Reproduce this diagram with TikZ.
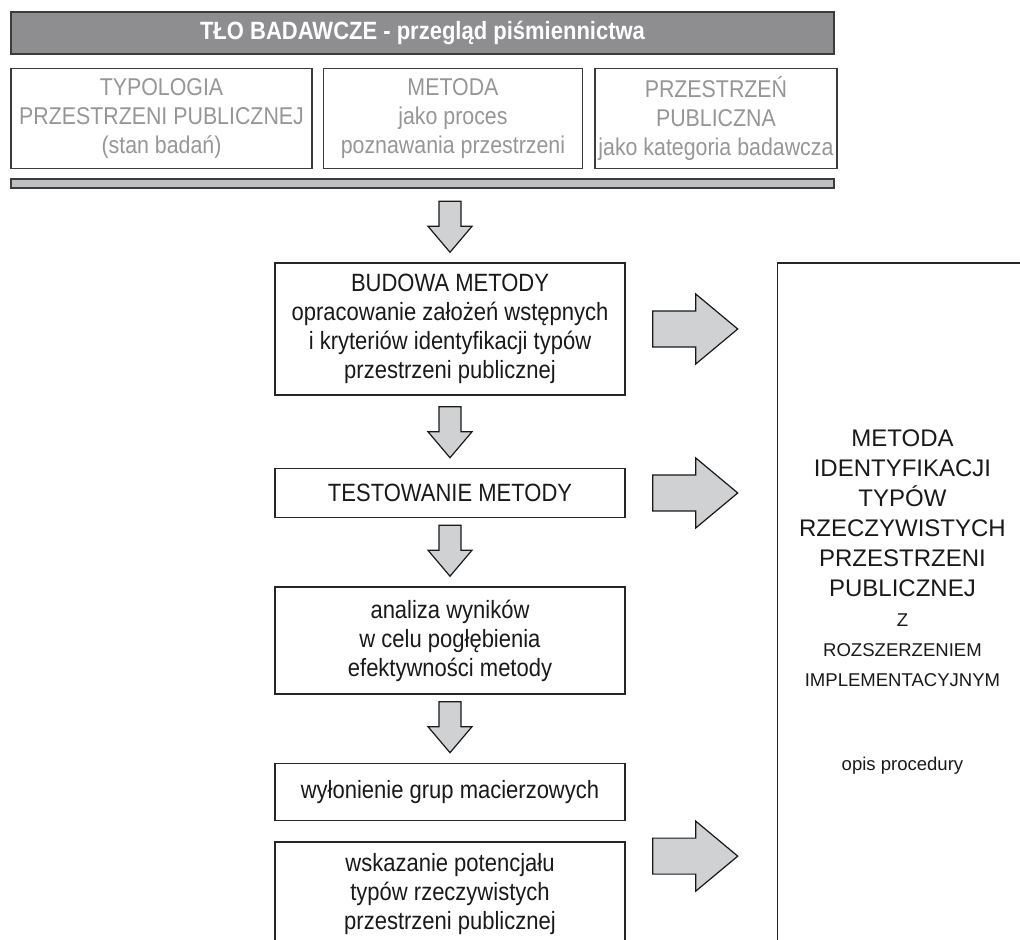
\documentclass[tikz,border=0pt]{standalone}
\usepackage{fontspec}
\setmainfont{Liberation Sans}
\newfontfamily\condfont{Liberation Sans}[FakeStretch=0.88]
\usetikzlibrary{positioning}
\definecolor{hdrgray}{RGB}{142,142,144}
\definecolor{bargray}{RGB}{191,192,194}
\definecolor{arrgray}{RGB}{208,209,211}
\definecolor{litgray}{RGB}{150,150,150}
\definecolor{edgegray}{RGB}{60,60,60}
\newcommand{\fullwidth}{617.25pt}
\newcommand{\flowwidth}{262.5pt}
\newcommand{\litheight}{75pt}
\newcommand{\condtext}{\condfont\fontsize{18.75}{21.75}\selectfont}
\newcommand{\littext}{\condfont\fontsize{18.2}{21.75}\selectfont}
\newcommand{\resbig}{\fontsize{18}{22.5}\selectfont}
\newcommand{\ressmall}{\fontsize{13.9}{21}\selectfont}
\tikzstyle{banner}=[fill=hdrgray,draw=edgegray,line width=1.1pt,text=white,
                    font=\condtext\bfseries,minimum width=\fullwidth,minimum height=31.5pt]
\tikzstyle{lit}=[fill=none,text=litgray,draw=edgegray,line width=1.1pt,shape=rectangle,
                 align=center,font=\littext,minimum height=\litheight,inner sep=0.5pt]
\tikzstyle{strip}=[fill=bargray,draw=edgegray,line width=1.1pt,shape=rectangle,
                   minimum width=\fullwidth,minimum height=6.75pt,inner sep=0pt]
\tikzstyle{stage}=[fill=none,text=black!90,draw=black!85,line width=1.1pt,shape=rectangle,
                   align=center,font=\condtext,minimum width=\flowwidth]
\tikzstyle{result}=[fill=none,text=black!90,draw=black!85,line width=1.1pt,shape=rectangle,
                    align=center,font=\resbig,minimum width=187.5pt,minimum height=508.5pt]
\tikzstyle{blockarr}=[fill=arrgray,draw=black!90,line width=0.9pt,line join=miter]
\tikzset{
  downarr/.pic={\draw[blockarr] (-11,-51) -- (11,-51) -- (11,-26) -- (22,-26) -- (0,0)
                 -- (-22,-26) -- (-11,-26) -- cycle;},
  rightarr/.pic={\draw[blockarr] (-42,-18) -- (1,-18) -- (1,-35) -- (43,0) -- (1,35)
                  -- (1,18) -- (-42,18) -- cycle;}
}
\begin{document}
\begin{tikzpicture}[x=0.75pt,y=-0.75pt]
\useasboundingbox (0,0) rectangle (1020,939);
\clip (0,0) rectangle (1020,939);

\node [banner] (hdr) at (422.5,33) {TŁO BADAWCZE - przegląd piśmiennictwa};
\node [lit, minimum width=225.75pt, below right=9.75pt and 0pt of hdr.south west] (lit1)
      {TYPOLOGIA\\PRZESTRZENI PUBLICZNEJ\\(stan badań)};
\node [lit, minimum width=194.25pt, right=7.5pt of lit1] (lit2)
      {METODA\\jako proces\\poznawania przestrzeni};
\node [lit, minimum width=181.5pt, right=8.25pt of lit2] (lit3)
      {PRZESTRZEŃ\\PUBLICZNA\\jako kategoria badawcza};
\node [strip, below right=6.75pt and 0pt of lit1.south west] (lbar) {};

\node [stage, minimum height=99pt] (budowa) at (450,329)
      {BUDOWA METODY\\opracowanie założeń wstępnych\\i kryteriów identyfikacji typów\\przestrzeni publicznej};
\node [stage, minimum height=36.75pt, below=54pt of budowa] (test) {TESTOWANIE METODY};
\node [stage, minimum height=80.25pt, below=51pt of test] (analiza)
      {analiza wyników\\w celu pogłębienia\\efektywności metody};
\node [stage, minimum height=42.75pt, below=51pt of analiza] (wylon) {wyłonienie grup macierzowych};
\node [stage, minimum height=78pt, below=15pt of wylon] (wskaz)
      {wskazanie potencjału\\typów rzeczywistych\\przestrzeni publicznej};

\node [result, below right=0pt and 113.25pt of budowa.north east] (metoda)
      {METODA\\IDENTYFIKACJI\\TYPÓW\\RZECZYWISTYCH\\PRZESTRZENI\\PUBLICZNEJ\\
       \ressmall Z\\\ressmall ROZSZERZENIEM\\\ressmall IMPLEMENTACYJNYM\\[40pt]\ressmall opis procedury};

\pic at ([yshift=7.5pt]budowa.north) {downarr};
\pic at ([yshift=7.5pt]test.north) {downarr};
\pic at ([yshift=7.5pt]analiza.north) {downarr};
\pic at ([yshift=7.5pt]wylon.north) {downarr};

\pic at ([xshift=51.75pt]budowa.east) {rightarr};
\pic at ([xshift=51.75pt]test.east) {rightarr};
\pic at ([xshift=51.75pt,yshift=-11.25pt]wskaz.north east) {rightarr};
\end{tikzpicture}
\end{document}
